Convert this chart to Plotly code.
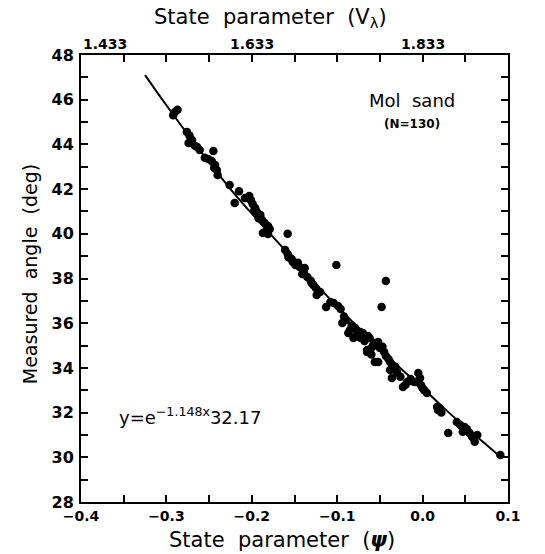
import plotly.graph_objects as go

# Measured angle vs state parameter, Mol sand (N=130)
psi = [
    -0.290, -0.287, -0.292, -0.276, -0.273, -0.274, -0.270, -0.264, -0.261, -0.245,
    -0.251, -0.247, -0.243, -0.241, -0.240, -0.244,
    -0.226, -0.220, -0.208, -0.203, -0.199, -0.196, -0.194, -0.190, -0.188, -0.185,
    -0.181, -0.179, -0.187, -0.181, -0.201, -0.192, -0.183, -0.158,
    -0.161, -0.158, -0.155, -0.152, -0.149, -0.144, -0.138, -0.139, -0.135, -0.157,
    -0.146, -0.141, -0.128, -0.125, -0.120, -0.124, -0.101, -0.131,
    -0.113, -0.104, -0.099, -0.096, -0.043, -0.048, -0.094, -0.090, -0.085, -0.087,
    -0.079, -0.077, -0.081, -0.073, -0.070, -0.064, -0.062, -0.056, -0.052, -0.065,
    -0.059, -0.065, -0.050, -0.056, -0.052, -0.045, -0.043, -0.038, -0.092, -0.083,
    -0.068, -0.058, -0.047, -0.073, -0.060, -0.040,
    -0.038, -0.036, -0.023, -0.018, -0.005, -0.009, 0.000, -0.002, 0.005, -0.030,
    -0.026, -0.014, -0.032, -0.020, -0.003, 0.002,
    0.017, 0.018, 0.022, 0.030, 0.040, 0.044, 0.049, 0.047, 0.055, 0.058,
    0.064, 0.061, 0.091, 0.020, 0.052, 0.060,
    -0.267, -0.255, -0.215, -0.197, -0.153, -0.130, -0.108, -0.075, -0.054, -0.012,
]
angle = [
    45.45, 45.55, 45.30, 44.56, 44.40, 44.06, 44.20, 43.88, 43.75, 43.70,
    43.35, 43.26, 43.08, 42.85, 42.63, 42.95,
    42.18, 41.38, 41.60, 41.69, 41.33, 41.15, 40.98, 40.84, 40.62, 40.48,
    40.35, 40.21, 40.04, 39.99, 41.50, 40.70, 40.15, 40.00,
    39.28, 39.10, 38.92, 38.74, 38.60, 38.51, 38.47, 38.29, 38.07, 38.95,
    38.70, 38.20, 37.71, 37.57, 37.40, 37.26, 38.60, 37.90,
    36.72, 36.90, 36.77, 36.64, 37.89, 36.72, 36.01, 36.14, 35.70, 35.56,
    35.79, 35.47, 35.34, 35.61, 35.56, 35.43, 35.34, 35.11, 35.16, 34.80,
    34.94, 34.71, 34.89, 34.26, 34.26, 34.71, 34.53, 34.26, 36.30, 35.90,
    35.20, 35.00, 34.95, 35.35, 34.60, 34.40,
    33.91, 33.55, 33.15, 33.37, 33.77, 33.37, 33.10, 33.24, 32.88, 33.80,
    33.60, 33.50, 34.05, 33.25, 33.55, 33.00,
    32.25, 32.12, 32.00, 31.09, 31.58, 31.45, 31.36, 31.14, 31.09, 30.92,
    31.00, 30.70, 30.10, 32.18, 31.25, 30.85,
    43.95, 43.40, 41.90, 41.05, 38.85, 37.80, 36.95, 35.55, 35.05, 33.40,
]

# Fitted trend line, sampled along psi
fit_psi = [-0.325, -0.300, -0.275, -0.250, -0.225, -0.200, -0.175, -0.150, -0.125,
           -0.100, -0.075, -0.050, -0.025, 0.000, 0.025, 0.050, 0.075, 0.090]
fit_angle = [47.10, 45.75, 44.45, 43.20, 42.00, 40.90, 39.85, 38.80, 37.75,
             36.75, 35.80, 34.85, 33.95, 33.10, 32.20, 31.35, 30.55, 30.05]

# Secondary (top) axis: V_lambda tick labels
top_tick_vals = [-0.4, -0.2, 0.0]
top_tick_text = ["1.433", "1.633", "1.833"]

FONT = "DejaVu Sans"
BLACK = "#000000"
SP = "\u00a0"

fig = go.Figure()
fig.add_trace(go.Scatter(
    x=fit_psi, y=fit_angle, mode="lines", line=dict(color=BLACK, width=2, shape="spline"),
    showlegend=False, hoverinfo="skip",
))
fig.add_trace(go.Scatter(
    x=psi, y=angle, mode="markers",
    marker=dict(color=BLACK, size=8.5, line=dict(width=0)),
    showlegend=False,
))
# empty trace so the top/right frame axes are drawn
fig.add_trace(go.Scatter(x=[None], y=[None], xaxis="x2", yaxis="y2",
                         mode="markers", showlegend=False, hoverinfo="skip"))

tick_common = dict(ticks="inside", ticklen=7, tickwidth=1.5, tickcolor=BLACK,
                   showline=True, linecolor=BLACK, linewidth=2, showgrid=False,
                   zeroline=False)

fig.update_layout(
    width=545, height=554,
    margin=dict(l=81, r=37, t=55, b=52),
    plot_bgcolor="white", paper_bgcolor="white",
    font=dict(family=FONT, color=BLACK),
    xaxis=dict(range=[-0.4, 0.1], dtick=0.1, tick0=-0.4, tickformat=".1f",
               tickfont=dict(size=14, family=FONT, weight="bold"),
               minor=dict(dtick=0.05, ticks="inside", ticklen=7, tickcolor=BLACK),
               ticklabelstandoff=0, **tick_common),
    yaxis=dict(range=[28, 48], dtick=2, tick0=28,
               tickfont=dict(size=16, family=FONT, weight="bold"),
               minor=dict(dtick=1, ticks="inside", ticklen=7, tickcolor=BLACK),
               ticklabelstandoff=2, **tick_common),
    xaxis2=dict(overlaying="x", side="top", range=[-0.4, 0.1], dtick=0.05, tick0=-0.4,
                showticklabels=False, **tick_common),
    yaxis2=dict(overlaying="y", side="right", range=[28, 48], dtick=1, tick0=28,
                showticklabels=False, **tick_common),
)

ann = []
for v, t in zip(top_tick_vals, top_tick_text):
    ann.append(dict(x=v, y=1.0, xref="x", yref="paper", text=t, showarrow=False,
                    xanchor="left" if v == top_tick_vals[0] else "center",
                    yanchor="bottom", yshift=1,
                    font=dict(size=14, family=FONT, weight="bold")))

ann += [
    dict(x=0.443, y=1.083, xref="paper", yref="paper", showarrow=False,
         text=f"State{SP} parameter{SP} (V<sub>λ</sub>)", font=dict(size=21, family=FONT),
         xanchor="center", yanchor="middle"),
    dict(x=0.471, y=-0.085, xref="paper", yref="paper", showarrow=False,
         text=f"State{SP} parameter{SP} (<b><i>ψ</i></b>)", font=dict(size=21, family=FONT),
         xanchor="center", yanchor="middle"),
    dict(x=-0.119, y=0.51, xref="paper", yref="paper", showarrow=False,
         text=f"Measured{SP} angle{SP} (deg)", textangle=-90, font=dict(size=19, family=FONT),
         xanchor="center", yanchor="middle"),
    dict(x=0.775, y=0.899, xref="paper", yref="paper", showarrow=False,
         text=f"Mol{SP} sand", font=dict(size=18, family=FONT),
         xanchor="center", yanchor="middle"),
    dict(x=0.775, y=0.846, xref="paper", yref="paper", showarrow=False,
         text="(N=130)", font=dict(size=12, family=FONT, weight="bold"),
         xanchor="center", yanchor="middle"),
    dict(x=0.084, y=0.192, xref="paper", yref="paper", showarrow=False,
         text="y=e<sup>−1.148x</sup>32.17", font=dict(size=18, family=FONT),
         xanchor="left", yanchor="middle"),
]
fig.update_layout(annotations=ann)

fig.write_html("out.html")
